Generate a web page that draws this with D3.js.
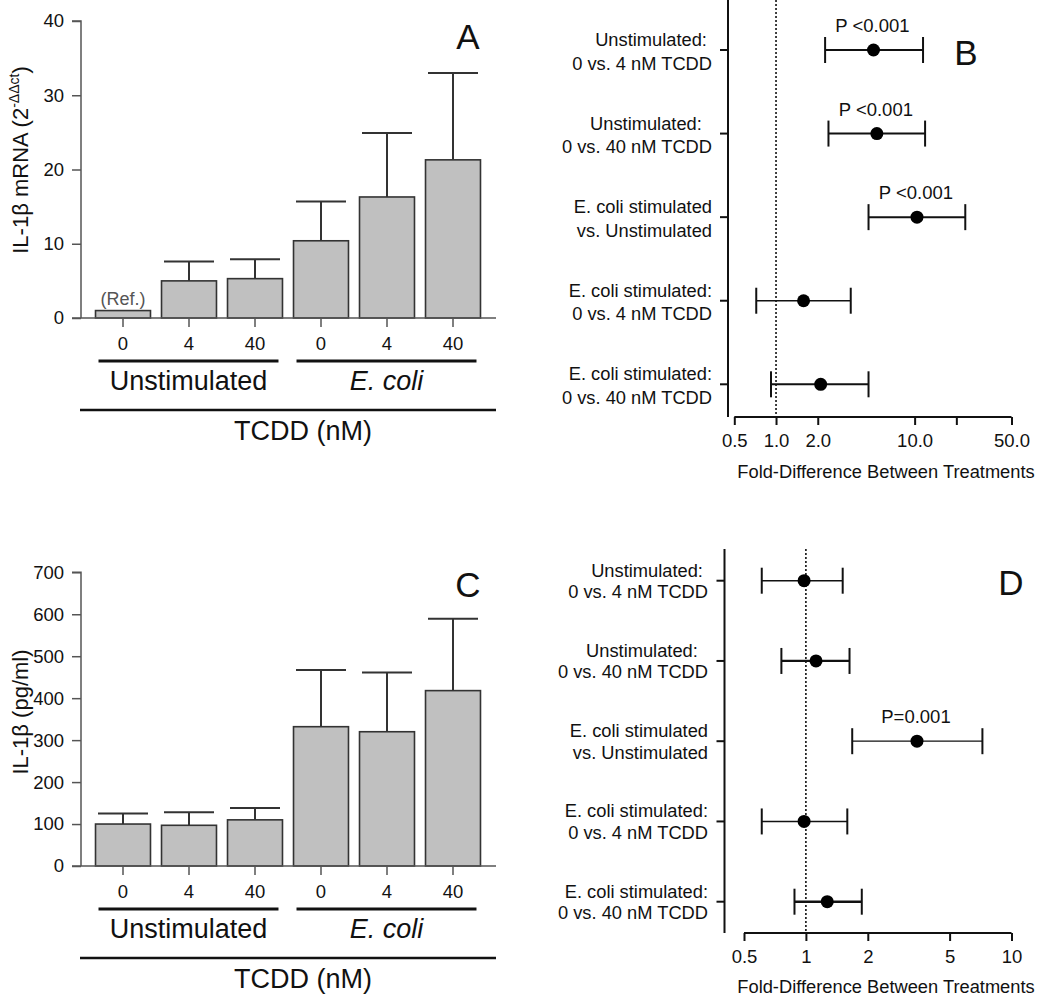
<!DOCTYPE html>
<html>
<head>
<meta charset="utf-8">
<script src="https://cdn.jsdelivr.net/npm/d3@7"></script>
<style>
  html, body { margin: 0; padding: 0; background: #fff; }
  svg { display: block; }
  text { font-family: "Liberation Sans", Arial, Helvetica, sans-serif; fill: #111; white-space: pre; }
</style>
</head>
<body>
<svg id="chart" width="1050" height="996"></svg>
<script>
// ---------------- DATA ----------------
const groupNames = ["Unstimulated", "E. coli"];
const doseLabels = ["0", "4", "40", "0", "4", "40"];

// Panel A: IL-1β mRNA (2^-ΔΔct)
const mrnaMean  = [1.0, 5.0, 5.3, 10.4, 16.3, 21.3];
const mrnaUpper = [null, 7.6, 7.9, 15.7, 24.9, 33.0];
const yTicksA = [0, 10, 20, 30, 40];

// Panel C: IL-1β protein (pg/ml)
const protMean  = [100, 97, 110, 332, 320, 418];
const protUpper = [125, 128, 138, 467, 461, 589];
const yTicksC = [0, 100, 200, 300, 400, 500, 600, 700];

// Comparisons (panels B and D)
const compLine1 = ["Unstimulated: ", "Unstimulated:  ", "E. coli stimulated", "E. coli stimulated:", "E. coli stimulated:"];
const compLine2 = ["0 vs. 4 nM TCDD", "0 vs. 40 nM TCDD", "vs. Unstimulated", "0 vs. 4 nM TCDD", "0 vs. 40 nM TCDD"];

// Panel B: fold differences, mRNA
const foldB = [5.05, 5.34, 10.4, 1.58, 2.10];
const lowB  = [2.26, 2.39, 4.65, 0.72, 0.92];
const highB = [11.5, 11.9, 23.2, 3.46, 4.65];
const pB    = ["P <0.001", "P <0.001", "P <0.001", "", ""];
const xTicksB = [0.5, 1, 2, 10, 20, 50];
const xTickLabelsB = ["0.5", "1.0", "2.0", "10.0", "", "50.0"];

// Panel D: fold differences, protein
const foldD = [0.98, 1.12, 3.47, 0.98, 1.27];
const lowD  = [0.61, 0.76, 1.68, 0.61, 0.88];
const highD = [1.51, 1.63, 7.22, 1.59, 1.87];
const pD    = ["", "", "P=0.001", "", ""];
const xTicksD = [0.5, 1, 2, 5, 10];
const xTickLabelsD = ["0.5", "1", "2", "5", "10"];

// ---------------- DRAW ----------------
const svg = d3.select("#chart");

function barPanel(cfg) {
  const g = svg.append("g");
  const x = d3.scaleBand().domain(d3.range(doseLabels.length))
    .range([90, 486]).paddingInner(0.167).paddingOuter(0.0835);
  const y = d3.scaleLinear().domain(cfg.domain).range([cfg.y0, cfg.y1]);

  // error bars (upper only)
  const capW = 50;
  cfg.upper.forEach((u, i) => {
    if (u == null) return;
    const cx = x(i) + x.bandwidth() / 2;
    g.append("line").attr("x1", cx).attr("x2", cx)
      .attr("y1", y(cfg.mean[i])).attr("y2", y(u))
      .attr("stroke", "#333").attr("stroke-width", 2);
    g.append("line").attr("x1", cx - capW / 2).attr("x2", cx + capW / 2)
      .attr("y1", y(u)).attr("y2", y(u))
      .attr("stroke", "#333").attr("stroke-width", 2);
  });

  // bars
  g.selectAll("rect.bar").data(cfg.mean).join("rect")
    .attr("class", "bar")
    .attr("x", (d, i) => x(i))
    .attr("width", x.bandwidth())
    .attr("y", d => y(d))
    .attr("height", d => y(0) - y(d))
    .attr("fill", "#c0c0c0").attr("stroke", "#333").attr("stroke-width", 1.6);

  // y axis
  const yAx = g.append("g").attr("transform", `translate(81,0)`)
    .call(d3.axisLeft(y).tickValues(cfg.ticks).tickSize(9).tickPadding(8).tickFormat(d3.format("d")));
  yAx.select(".domain").attr("stroke", "#555").attr("stroke-width", 1.5).attr("d", `M-9,${cfg.y1}H0V${cfg.y0}`);
  yAx.selectAll(".tick line").attr("stroke", "#555").attr("stroke-width", 1.5);
  yAx.selectAll(".tick text").attr("font-size", 18.5).attr("font-family", "Liberation Sans, Arial, sans-serif").attr("fill", "#111");

  // x axis baseline
  g.append("line").attr("x1", 72).attr("x2", 496).attr("y1", y(0)).attr("y2", y(0))
    .attr("stroke", "#555").attr("stroke-width", 1.5);
  // x ticks + labels
  doseLabels.forEach((lab, i) => {
    const cx = x(i) + x.bandwidth() / 2;
    g.append("line").attr("x1", cx).attr("x2", cx).attr("y1", y(0)).attr("y2", y(0) + 9)
      .attr("stroke", "#555").attr("stroke-width", 1.5);
    g.append("text").attr("x", cx).attr("y", y(0) + 32).attr("text-anchor", "middle")
      .attr("font-size", 18.5).text(lab);
  });

  // group lines
  const gy = y(0) + 43;
  [[0, 2], [3, 5]].forEach((r, k) => {
    const xa = x(r[0]) + 3, xb = x(r[1]) + x.bandwidth() - 4;
    g.append("line").attr("x1", xa).attr("x2", xb).attr("y1", gy).attr("y2", gy)
      .attr("stroke", "#111").attr("stroke-width", 3);
    g.append("text").attr("x", (xa + xb) / 2).attr("y", gy + 29)
      .attr("text-anchor", "middle").attr("font-size", 27)
      .attr("font-style", k === 1 ? "italic" : "normal").text(groupNames[k]);
  });
  // TCDD line
  g.append("line").attr("x1", 80).attr("x2", 496).attr("y1", gy + 49).attr("y2", gy + 49)
    .attr("stroke", "#111").attr("stroke-width", 2.5);
  g.append("text").attr("x", 303).attr("y", gy + 79).attr("text-anchor", "middle")
    .attr("font-size", 27).text("TCDD (nM)");

  // panel letter
  g.append("text").attr("x", 468).attr("y", cfg.letterY).attr("text-anchor", "middle")
    .attr("font-size", 35).text(cfg.letter);

  // y title
  const t = g.append("text").attr("transform", `translate(28,${cfg.titleY}) rotate(-90)`)
    .attr("text-anchor", "middle").attr("font-size", 22);
  cfg.title(t);

  if (cfg.refLabel) {
    const cx = x(0) + x.bandwidth() / 2;
    g.append("text").attr("x", cx).attr("y", y(cfg.mean[0]) - 6).attr("text-anchor", "middle")
      .attr("font-size", 18).style("fill", "#555").text("(Ref.)");
  }
}

barPanel({
  domain: [0, 40], y0: 318, y1: 21, mean: mrnaMean, upper: mrnaUpper, ticks: yTicksA,
  letter: "A", letterY: 49, titleY: 160, refLabel: true,
  title: t => {
    t.append("tspan").text("IL-1β mRNA (2");
    t.append("tspan").attr("font-size", 14).attr("dy", -9).text("-ΔΔct");
    t.append("tspan").attr("dy", 9).text(")");
  }
});

barPanel({
  domain: [0, 700], y0: 866, y1: 572.3, mean: protMean, upper: protUpper, ticks: yTicksC,
  letter: "C", letterY: 597, titleY: 712, refLabel: false,
  title: t => { t.text("IL-1β (pg/ml)"); }
});

function forestPanel(cfg) {
  const g = svg.append("g");
  const x = d3.scaleLog().base(2).domain(cfg.domain).range(cfg.xrange);
  const y = d3.scalePoint().domain(d3.range(cfg.fold.length)).range(cfg.yrange);

  // dotted reference line at 1
  g.append("line").attr("x1", x(1)).attr("x2", x(1)).attr("y1", cfg.top).attr("y2", cfg.axisY)
    .attr("stroke", "#111").attr("stroke-width", 1.6).attr("stroke-dasharray", "2,2");

  // y axis line
  g.append("line").attr("x1", cfg.axisX).attr("x2", cfg.axisX).attr("y1", cfg.top).attr("y2", cfg.axisY)
    .attr("stroke", "#111").attr("stroke-width", 2);

  // x axis
  const xAx = g.append("g").attr("transform", `translate(0,${cfg.axisY})`)
    .call(d3.axisBottom(x).tickValues(cfg.ticks).tickSize(8).tickPadding(9)
      .tickFormat((d, i) => cfg.tickLabels[i]));
  xAx.select(".domain").attr("stroke", "#111").attr("stroke-width", 2)
    .attr("d", `M${cfg.xrange[0]},0H${cfg.xrange[1]}`);
  xAx.selectAll(".tick line").attr("stroke", "#111").attr("stroke-width", 2);
  xAx.selectAll(".tick text").attr("font-size", 18.5).attr("font-family", "Liberation Sans, Arial, sans-serif").attr("fill", "#111");

  g.append("text").attr("x", 886).attr("y", cfg.axisY + cfg.titleDy).attr("text-anchor", "middle")
    .attr("font-size", 18.3).text("Fold-Difference Between Treatments");

  cfg.fold.forEach((f, i) => {
    const cy = y(i);
    // y tick
    g.append("line").attr("x1", cfg.axisX - 8).attr("x2", cfg.axisX).attr("y1", cy).attr("y2", cy)
      .attr("stroke", "#111").attr("stroke-width", 2);
    // labels
    g.append("text").attr("x", cfg.labelX).attr("y", cy - 4).attr("text-anchor", "end")
      .attr("font-size", 18.3).text(compLine1[i]);
    g.append("text").attr("x", cfg.labelX).attr("y", cy - 4 + cfg.lineGap).attr("text-anchor", "end")
      .attr("font-size", 18.3).text(compLine2[i]);
    // CI
    const sw = cfg.ciWidth[i];
    g.append("line").attr("x1", x(cfg.low[i])).attr("x2", x(cfg.high[i])).attr("y1", cy).attr("y2", cy)
      .attr("stroke", "#111").attr("stroke-width", sw);
    [cfg.low[i], cfg.high[i]].forEach(v => {
      g.append("line").attr("x1", x(v)).attr("x2", x(v)).attr("y1", cy - 13).attr("y2", cy + 13)
        .attr("stroke", "#111").attr("stroke-width", 2);
    });
    g.append("circle").attr("cx", x(f)).attr("cy", cy).attr("r", 6.5).attr("fill", "#000");
    if (cfg.p[i]) {
      g.append("text").attr("x", x(f) - 1).attr("y", cy - 18).attr("text-anchor", "middle")
        .attr("font-size", 18.5).text(cfg.p[i]);
    }
  });

  g.append("text").attr("x", cfg.letterX).attr("y", cfg.letterY).attr("text-anchor", "middle")
    .attr("font-size", 35).text(cfg.letter);
}

forestPanel({
  domain: [0.5, 50], xrange: [734.3, 1011.5], yrange: [50, 384.3],
  fold: foldB, low: lowB, high: highB, p: pB,
  ticks: xTicksB, tickLabels: xTickLabelsB,
  top: 0, axisY: 417, axisX: 728, labelX: 712, lineGap: 23.5, titleDy: 61,
  ciWidth: [2, 2, 2, 1.6, 2],
  letter: "B", letterX: 966, letterY: 65
});

forestPanel({
  domain: [0.5, 10], xrange: [744, 1011.5], yrange: [580.7, 901.7],
  fold: foldD, low: lowD, high: highD, p: pD,
  ticks: xTicksD, tickLabels: xTickLabelsD,
  top: 549, axisY: 933, axisX: 724.5, labelX: 708, lineGap: 21.5, titleDy: 60,
  ciWidth: [1.5, 2.2, 1.2, 1.5, 2.6],
  letter: "D", letterX: 1011, letterY: 595
});
</script>
</body>
</html>
